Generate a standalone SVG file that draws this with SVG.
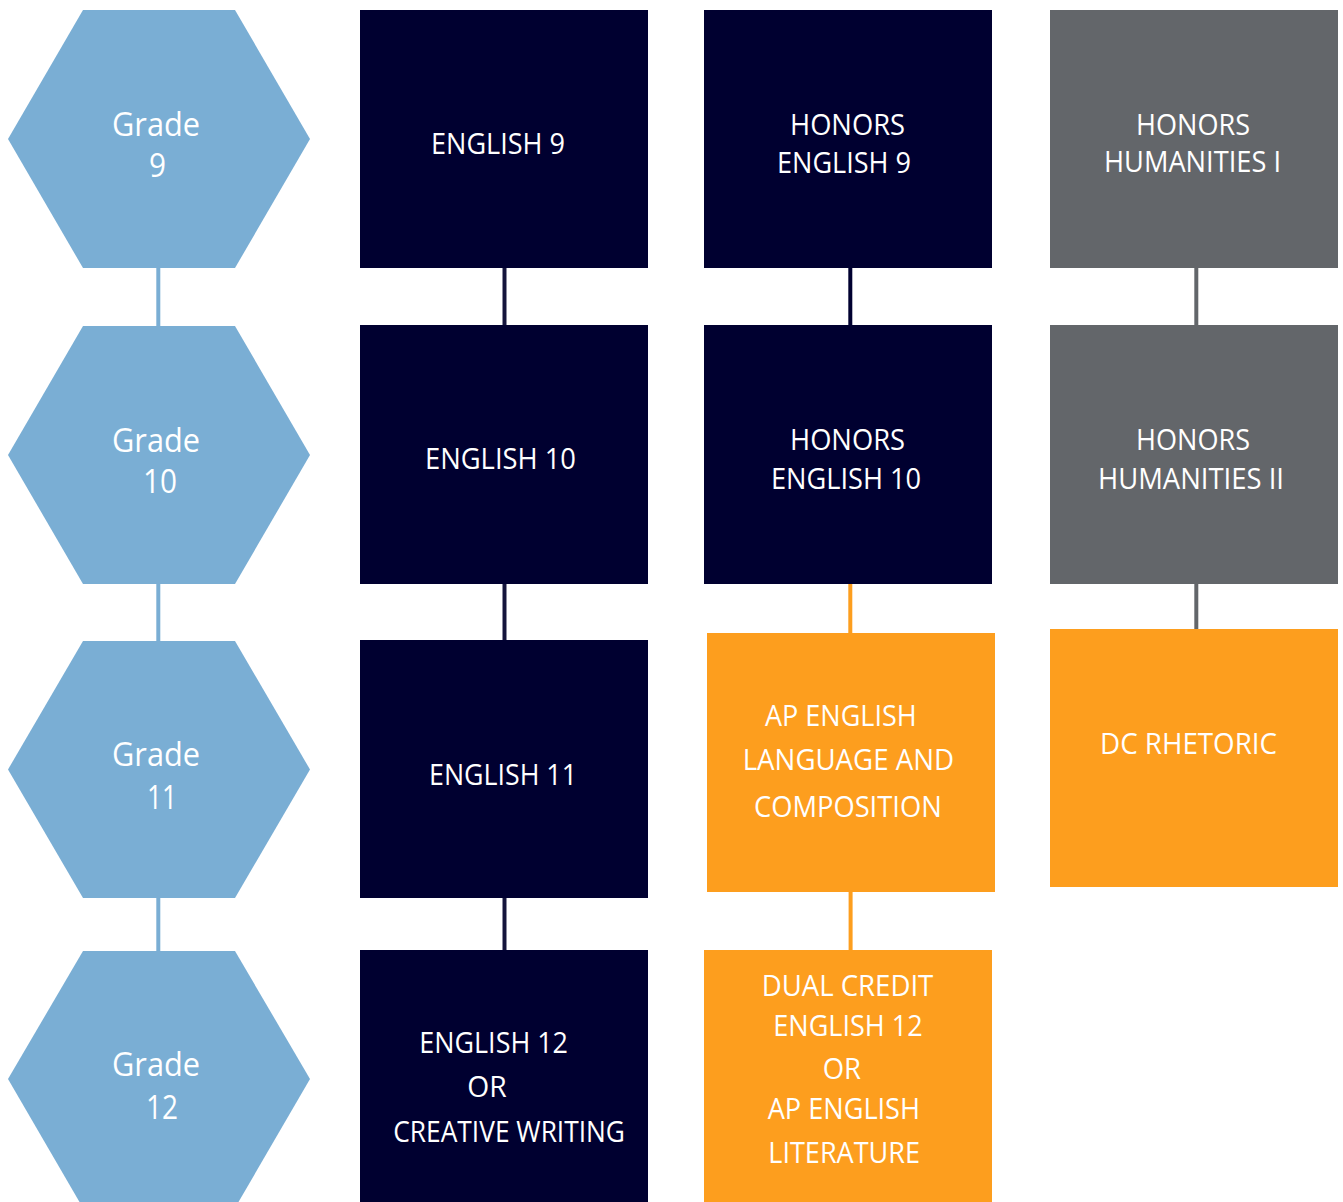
<svg xmlns="http://www.w3.org/2000/svg" width="1343" height="1202" viewBox="0 0 1343 1202">
<style>
.hex{fill:#7aaed4}
.navy{fill:#000030}
.gray{fill:#63666a}
.orange{fill:#fd9e1e}
.t{font-family:"Open Sans","Noto Sans","Liberation Sans",sans-serif;fill:#ffffff;font-size:30px}
.g{font-size:32px}
.c{stroke-width:4;fill:none}
</style>
<rect width="1343" height="1202" fill="#ffffff"/>
<g id="connectors">
<line class="c" x1="158.3" y1="266" x2="158.3" y2="328" stroke="#7aaed4"/>
<line class="c" x1="158.3" y1="582" x2="158.3" y2="643" stroke="#7aaed4"/>
<line class="c" x1="158.3" y1="896" x2="158.3" y2="953" stroke="#7aaed4"/>
<line class="c" x1="504.5" y1="266" x2="504.5" y2="327" stroke="#14143c"/>
<line class="c" x1="504.5" y1="582" x2="504.5" y2="642" stroke="#14143c"/>
<line class="c" x1="504.5" y1="896" x2="504.5" y2="952" stroke="#14143c"/>
<line class="c" x1="850.3" y1="266" x2="850.3" y2="327" stroke="#000030"/>
<line class="c" x1="850.3" y1="582" x2="850.3" y2="635" stroke="#fd9e1e"/>
<line class="c" x1="850.6" y1="890" x2="850.6" y2="952" stroke="#fd9e1e"/>
<line class="c" x1="1196.3" y1="266" x2="1196.3" y2="327" stroke="#63666a"/>
<line class="c" x1="1196.3" y1="582" x2="1196.3" y2="631" stroke="#63666a"/>
</g>
<g id="grade9">
<polygon class="hex" points="83,10 235,10 310,139 235,268 83,268 8,139"/>
<text class="t g" x="112" y="136" textLength="88" lengthAdjust="spacingAndGlyphs">Grade</text>
<text class="t g" x="149" y="177" textLength="17" lengthAdjust="spacingAndGlyphs">9</text>
</g>
<g id="grade10">
<polygon class="hex" points="83,326 235,326 310,455 235,584 83,584 8,455"/>
<text class="t g" x="112" y="451.5" textLength="88" lengthAdjust="spacingAndGlyphs">Grade</text>
<text class="t g" x="143" y="493" textLength="34" lengthAdjust="spacingAndGlyphs">10</text>
</g>
<g id="grade11">
<polygon class="hex" points="83,641 235,641 310,769.5 235,898 83,898 8,769.5"/>
<text class="t g" x="112" y="765.5" textLength="88" lengthAdjust="spacingAndGlyphs">Grade</text>
<text class="t g" x="147" y="809" textLength="30" lengthAdjust="spacingAndGlyphs">11</text>
</g>
<g id="grade12">
<polygon class="hex" points="83,951 235,951 310,1079 235,1208 83,1208 8,1079"/>
<text class="t g" x="112" y="1076" textLength="88" lengthAdjust="spacingAndGlyphs">Grade</text>
<text class="t g" x="146" y="1119" textLength="32" lengthAdjust="spacingAndGlyphs">12</text>
</g>
<g id="english9">
<rect class="navy" x="360" y="10" width="288" height="258"/>
<text class="t" x="431" y="154" textLength="134" lengthAdjust="spacingAndGlyphs">ENGLISH 9</text>
</g>
<g id="english10">
<rect class="navy" x="360" y="325" width="288" height="259"/>
<text class="t" x="425" y="469" textLength="151" lengthAdjust="spacingAndGlyphs">ENGLISH 10</text>
</g>
<g id="english11">
<rect class="navy" x="360" y="640" width="288" height="258"/>
<text class="t" x="429" y="785" textLength="148" lengthAdjust="spacingAndGlyphs">ENGLISH 11</text>
</g>
<g id="english12">
<rect class="navy" x="360" y="950" width="288" height="252"/>
<text class="t" x="419.3" y="1053.3" textLength="148.7" lengthAdjust="spacingAndGlyphs">ENGLISH 12</text>
<text class="t" x="467.3" y="1096.7" textLength="39.4" lengthAdjust="spacingAndGlyphs">OR</text>
<text class="t" x="393.3" y="1141.7" textLength="231.7" lengthAdjust="spacingAndGlyphs">CREATIVE WRITING</text>
</g>
<g id="honors-english9">
<rect class="navy" x="704" y="10" width="288" height="258"/>
<text class="t" x="790" y="135" textLength="115" lengthAdjust="spacingAndGlyphs">HONORS</text>
<text class="t" x="777" y="173" textLength="134" lengthAdjust="spacingAndGlyphs">ENGLISH 9</text>
</g>
<g id="honors-english10">
<rect class="navy" x="704" y="325" width="288" height="259"/>
<text class="t" x="790" y="450" textLength="115" lengthAdjust="spacingAndGlyphs">HONORS</text>
<text class="t" x="771" y="489" textLength="150" lengthAdjust="spacingAndGlyphs">ENGLISH 10</text>
</g>
<g id="ap-language">
<rect class="orange" x="707" y="633" width="288" height="259"/>
<text class="t" x="765" y="726" textLength="151.7" lengthAdjust="spacingAndGlyphs">AP ENGLISH</text>
<text class="t" x="742.7" y="770" textLength="211.3" lengthAdjust="spacingAndGlyphs">LANGUAGE AND</text>
<text class="t" x="754" y="817.3" textLength="187.7" lengthAdjust="spacingAndGlyphs">COMPOSITION</text>
</g>
<g id="dual-credit">
<rect class="orange" x="704" y="950" width="288" height="252"/>
<text class="t" x="761.7" y="996" textLength="171.6" lengthAdjust="spacingAndGlyphs">DUAL CREDIT</text>
<text class="t" x="773.3" y="1036" textLength="149.4" lengthAdjust="spacingAndGlyphs">ENGLISH 12</text>
<text class="t" x="822.7" y="1079.3" textLength="38.3" lengthAdjust="spacingAndGlyphs">OR</text>
<text class="t" x="767.7" y="1119.3" textLength="152.3" lengthAdjust="spacingAndGlyphs">AP ENGLISH</text>
<text class="t" x="768.3" y="1163.3" textLength="151.7" lengthAdjust="spacingAndGlyphs">LITERATURE</text>
</g>
<g id="honors-humanities1">
<rect class="gray" x="1050" y="10" width="288" height="258"/>
<text class="t" x="1136" y="135" textLength="114" lengthAdjust="spacingAndGlyphs">HONORS</text>
<text class="t" x="1104" y="172" textLength="177" lengthAdjust="spacingAndGlyphs">HUMANITIES I</text>
</g>
<g id="honors-humanities2">
<rect class="gray" x="1050" y="325" width="288" height="259"/>
<text class="t" x="1136" y="450" textLength="114" lengthAdjust="spacingAndGlyphs">HONORS</text>
<text class="t" x="1098" y="489" textLength="186" lengthAdjust="spacingAndGlyphs">HUMANITIES II</text>
</g>
<g id="dc-rhetoric">
<rect class="orange" x="1050" y="629" width="288" height="258"/>
<text class="t" x="1100" y="754" textLength="177" lengthAdjust="spacingAndGlyphs">DC RHETORIC</text>
</g>
</svg>
